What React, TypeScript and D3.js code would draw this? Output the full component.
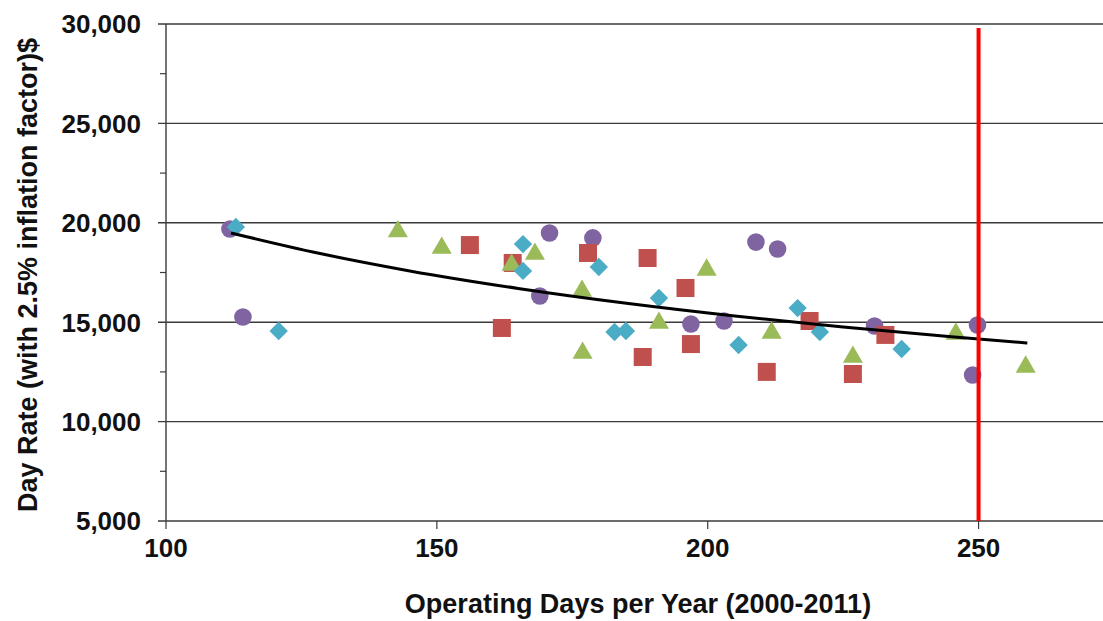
import React, { useEffect, useRef } from "react";
import * as d3 from "d3";

// operating days / day rate, one list per series
const circleDays = [111.8, 114.2, 170.8, 178.8, 169.0, 196.9, 203.0, 208.9, 212.9, 230.8, 249.8, 248.9];
const circleRates = [19690, 15260, 19490, 19240, 16320, 14910, 15060, 19030, 18680, 14810, 14860, 12345];

const squareDays = [156.1, 164.0, 177.9, 188.9, 195.9, 162.0, 196.9, 188.0, 210.9, 218.8, 226.8, 232.8];
const squareRates = [18880, 17980, 18480, 18230, 16720, 14710, 13900, 13250, 12500, 15060, 12395, 14360];

const triangleDays = [142.8, 150.9, 163.8, 168.1, 199.8, 176.8, 191.0, 211.8, 176.9, 226.8, 245.8, 258.7];
const triangleRates = [19560, 18730, 17880, 18430, 17630, 16570, 14960, 14460, 13450, 13250, 14410, 12750];

const diamondDays = [112.9, 120.8, 165.9, 165.9, 179.9, 191.0, 182.8, 184.9, 205.7, 216.6, 220.7, 235.8];
const diamondRates = [19790, 14560, 18930, 17580, 17780, 16220, 14510, 14560, 13850, 15710, 14510, 13650];

// trend line
const trendDays = [112, 128, 145, 165, 185, 205, 225, 245, 259];
const trendRates = [19490, 18480, 17580, 16700, 15955, 15315, 14755, 14265, 13955];

const xTicks = [100, 150, 200, 250];
const yTicks = [5000, 10000, 15000, 20000, 25000, 30000];
const cutoffDays = 250;

const xTitle = "Operating Days per Year (2000-2011)";
const yTitle = "Day Rate (with 2.5% inflation factor)$";

function App() {
    const chart = useRef(null);

    useEffect(() => {
        const width = 1103;
        const height = 621;
        const svg = d3.select(chart.current)
            .attr("width", width)
            .attr("height", height);
        const g = svg.append("g");

        const x = d3.scaleLinear().domain([100, 275]).range([166, 1114]);
        const y = d3.scaleLinear().domain([5000, 30000]).range([521, 24]);
        const font = "'Liberation Sans', Arial, sans-serif";
        const axisColor = "#3a3a3a";

        // gridlines + major ticks
        g.selectAll(".grid")
            .data(yTicks.slice(1))
            .enter()
            .append("line")
                .attr("x1", 158)
                .attr("x2", width)
                .attr("y1", d => y(d))
                .attr("y2", d => y(d))
                .attr("stroke", axisColor)
                .attr("stroke-width", 1.4);

        // minor ticks on y axis
        const minor = d3.range(7500, 30000, 5000);
        g.selectAll(".minor")
            .data(minor)
            .enter()
            .append("line")
                .attr("x1", 160)
                .attr("x2", 166)
                .attr("y1", d => y(d))
                .attr("y2", d => y(d))
                .attr("stroke", axisColor)
                .attr("stroke-width", 1.2);

        // y axis line
        g.append("line")
            .attr("x1", 166).attr("x2", 166)
            .attr("y1", y(30000)).attr("y2", y(5000))
            .attr("stroke", axisColor)
            .attr("stroke-width", 1.4);

        // x axis line
        g.append("line")
            .attr("x1", 158).attr("x2", width)
            .attr("y1", y(5000)).attr("y2", y(5000))
            .attr("stroke", axisColor)
            .attr("stroke-width", 1.4);

        g.selectAll(".xtick")
            .data(xTicks)
            .enter()
            .append("line")
                .attr("x1", d => x(d))
                .attr("x2", d => x(d))
                .attr("y1", y(5000))
                .attr("y2", y(5000) + 8)
                .attr("stroke", axisColor)
                .attr("stroke-width", 1.2);

        // tick labels
        g.selectAll(".ylab")
            .data(yTicks)
            .enter()
            .append("text")
                .attr("x", 141)
                .attr("y", d => y(d))
                .attr("dy", "0.36em")
                .attr("text-anchor", "end")
                .attr("font-family", font)
                .attr("font-weight", "bold")
                .attr("font-size", 26)
                .attr("fill", "#111")
                .text(d => d3.format(",")(d));

        g.selectAll(".xlab")
            .data(xTicks)
            .enter()
            .append("text")
                .attr("x", d => x(d))
                .attr("y", 557)
                .attr("text-anchor", "middle")
                .attr("font-family", font)
                .attr("font-weight", "bold")
                .attr("font-size", 26)
                .attr("fill", "#111")
                .text(d => d);

        // axis titles
        g.append("text")
            .attr("x", 638)
            .attr("y", 613)
            .attr("text-anchor", "middle")
            .attr("font-family", font)
            .attr("font-weight", "bold")
            .attr("font-size", 27)
            .attr("fill", "#111")
            .text(xTitle);

        g.append("text")
            .attr("transform", "translate(37,275) rotate(-90)")
            .attr("text-anchor", "middle")
            .attr("font-family", font)
            .attr("font-weight", "bold")
            .attr("font-size", 27)
            .attr("fill", "#111")
            .text(yTitle);

        // series: circles, squares, triangles, diamonds
        const zip = (a, b) => a.map((d, i) => [d, b[i]]);

        g.selectAll(".circ")
            .data(zip(circleDays, circleRates))
            .enter()
            .append("circle")
                .attr("cx", d => x(d[0]))
                .attr("cy", d => y(d[1]))
                .attr("r", 8.8)
                .attr("fill", "#8064A2");

        g.selectAll(".sq")
            .data(zip(squareDays, squareRates))
            .enter()
            .append("path")
                .attr("d", d3.symbol(d3.symbolSquare, 18 * 18))
                .attr("transform", d => `translate(${x(d[0])},${y(d[1])})`)
                .attr("fill", "#C0504D");

        const tri = d3.symbol(d3.symbolTriangle, 175);
        g.selectAll(".tri")
            .data(zip(triangleDays, triangleRates))
            .enter()
            .append("path")
                .attr("d", tri)
                .attr("transform", d => `translate(${x(d[0])},${y(d[1])})`)
                .attr("fill", "#9BBB59");

        g.selectAll(".dia")
            .data(zip(diamondDays, diamondRates))
            .enter()
            .append("path")
                .attr("d", d3.symbol(d3.symbolSquare, 13 * 13))
                .attr("transform", d => `translate(${x(d[0])},${y(d[1])}) rotate(45)`)
                .attr("fill", "#4BACC6");

        // trend line
        const line = d3.line()
            .x(d => x(d[0]))
            .y(d => y(d[1]))
            .curve(d3.curveMonotoneX);

        g.append("path")
            .datum(zip(trendDays, trendRates))
            .attr("d", line)
            .attr("fill", "none")
            .attr("stroke", "#000")
            .attr("stroke-width", 3);

        // red cutoff line
        g.append("line")
            .attr("x1", x(cutoffDays)).attr("x2", x(cutoffDays))
            .attr("y1", 28).attr("y2", y(5000))
            .attr("stroke", "#ff0000")
            .attr("stroke-width", 4);

        return () => {
            svg.selectAll("*").remove();
        };
    }, []);

    return (
        <svg ref={chart} style={{ position: "absolute", left: 0, top: 0, background: "#fff" }}></svg>
    );
}

export default App;
